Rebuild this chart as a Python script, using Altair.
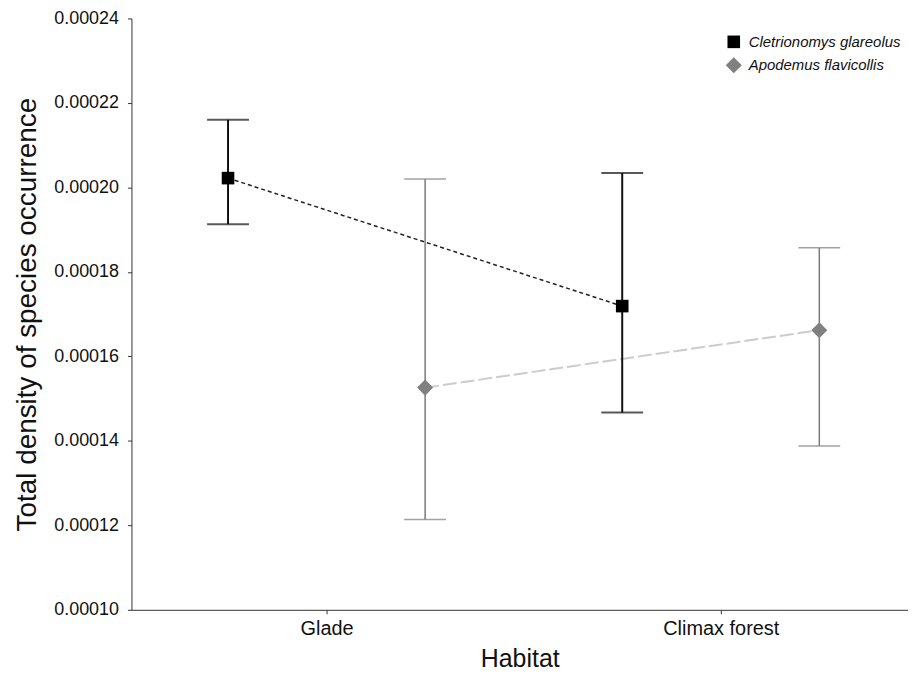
import altair as alt
import pandas as pd

habitats = ["Glade", "Climax forest"]
species = ["Cletrionomys glareolus", "Apodemus flavicollis"]
# values per species, ordered by habitat
means = {
    "Cletrionomys glareolus": [0.0002022, 0.0001719],
    "Apodemus flavicollis": [0.0001526, 0.0001662],
}
upper = {
    "Cletrionomys glareolus": [0.0002160, 0.0002034],
    "Apodemus flavicollis": [0.0002020, 0.0001857],
}
lower = {
    "Cletrionomys glareolus": [0.0001913, 0.0001467],
    "Apodemus flavicollis": [0.0001214, 0.0001388],
}
offsets = {"Cletrionomys glareolus": -0.25, "Apodemus flavicollis": 0.25}

rows = []
for s in species:
    for i, h in enumerate(habitats):
        rows.append({
            "species": s,
            "habitat": h,
            "x": i + offsets[s],
            "mean": means[s][i],
            "lo": lower[s][i],
            "hi": upper[s][i],
        })
df = pd.DataFrame(rows)

FONT = "Liberation Sans"
xscale = alt.Scale(domain=[-0.495, 1.475], nice=False, zero=False)
yscale = alt.Scale(domain=[0.0001, 0.00024], nice=False, zero=False)

x_enc = alt.X("x:Q", scale=xscale,
              axis=alt.Axis(values=[0, 1], title="Habitat",
                            labelExpr="datum.value == 0 ? 'Glade' : 'Climax forest'",
                            grid=False, tickSize=4, labelFontSize=20, titleFontSize=25,
                            labelPadding=5, titlePadding=8, titleFontWeight="normal",
                            labelColor="#111", titleColor="#111", domainColor="#333",
                            tickColor="#333", labelFont=FONT, titleFont=FONT))
y_enc = alt.Y("mean:Q", scale=yscale,
              axis=alt.Axis(values=[0.0001, 0.00012, 0.00014, 0.00016, 0.00018, 0.0002, 0.00022, 0.00024],
                            format=".5f", title="Total density of species occurrence",
                            grid=False, tickSize=4, labelFontSize=18, titleFontSize=28,
                            labelPadding=9, titlePadding=12, titleFontWeight="normal",
                            labelColor="#111", titleColor="#111", domainColor="#333",
                            tickColor="#333", labelFont=FONT, titleFont=FONT))

base = alt.Chart(df)

black = base.transform_filter(alt.datum.species == species[0])
gray = base.transform_filter(alt.datum.species == species[1])

line_black = black.mark_line(color="#222", strokeWidth=1.5, strokeDash=[4, 3]).encode(x=x_enc, y=y_enc)
line_gray = gray.mark_line(color="#cccccc", strokeWidth=2, strokeDash=[14, 4]).encode(x=x_enc, y=y_enc)

rule_black = black.mark_rule(color="#111", strokeWidth=2).encode(x=x_enc, y="lo:Q", y2="hi:Q")
rule_gray = gray.mark_rule(color="#7a7a7a", strokeWidth=1.5).encode(x=x_enc, y="lo:Q", y2="hi:Q")

cap_lo_b = black.mark_tick(color="#111", size=42, thickness=2, orient="horizontal").encode(x=x_enc, y="lo:Q")
cap_hi_b = black.mark_tick(color="#111", size=42, thickness=2, orient="horizontal").encode(x=x_enc, y="hi:Q")
cap_lo_g = gray.mark_tick(color="#7a7a7a", size=42, thickness=1.5, orient="horizontal").encode(x=x_enc, y="lo:Q")
cap_hi_g = gray.mark_tick(color="#7a7a7a", size=42, thickness=1.5, orient="horizontal").encode(x=x_enc, y="hi:Q")

points = base.mark_point(filled=True, opacity=1).encode(
    x=x_enc, y=y_enc,
    color=alt.Color("species:N", scale=alt.Scale(domain=species, range=["#000000", "#808080"]),
                    legend=alt.Legend(title=None, orient="none", legendX=596, legendY=16,
                                      labelFontStyle="italic", labelFontSize=15, labelFont=FONT,
                                      labelColor="#111", symbolSize=210, rowPadding=6, labelOffset=6)),
    shape=alt.Shape("species:N", scale=alt.Scale(domain=species, range=["square", "diamond"])),
    size=alt.Size("species:N", scale=alt.Scale(domain=species, range=[160, 260]), legend=None),
)

chart = alt.layer(line_black, line_gray, rule_black, rule_gray, cap_lo_b, cap_hi_b,
                  cap_lo_g, cap_hi_g, points).properties(
    width=780, height=594,
    autosize=alt.AutoSizeParams(type="none"),
    padding={"left": 124, "top": 9, "right": 0, "bottom": 65},
    background="white",
).configure_view(stroke=None)

chart.save("out.html", embed_options={"renderer": "svg", "actions": False})
